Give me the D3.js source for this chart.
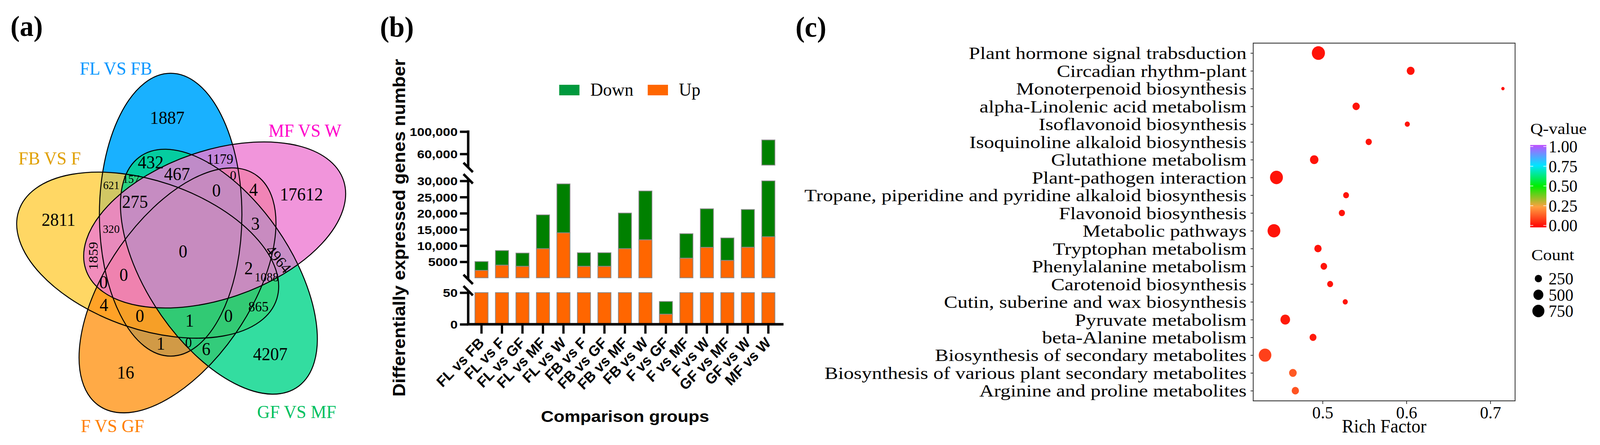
<!DOCTYPE html>
<html><head><meta charset="utf-8">
<script src="https://cdn.jsdelivr.net/npm/d3@7"></script>
<style>html,body{margin:0;padding:0;background:#fff;overflow:hidden}svg{display:block;width:100vw;height:100vh}</style>
</head><body>
<svg id="chart" viewBox="0 0 4266 1139" preserveAspectRatio="none"></svg>
<script>
// ================= DATA =================
// (a) Venn
const vennSets = ["FL VS FB", "MF VS W", "GF VS MF", "F VS GF", "FB VS F"];
const vennCounts = [1887, 17612, 4207, 16, 2811, 432, 467, 1179, 0, 157, 621, 275, 0, 4, 3, 320,
  1859, 0, 4964, 2, 1088, 0, 0, 4, 865, 0, 1, 0, 1, 0, 6];

// (b) stacked bars
const groups = ["FL vs FB","FL vs F","FL vs GF","FL vs MF","FL vs W","FB vs F","FB vs GF","FB vs MF",
  "FB vs W","F vs GF","F vs MF","F vs W","GF vs MF","GF vs W","MF vs W"];
const upCounts   = [2350, 3980, 3620, 9070, 13970, 3620, 3620, 9070, 11800, 16, 6130, 9470, 5440, 9510, 12750];
const downCounts = [2720, 4490, 4080, 10430, 15100, 4180, 4180, 10990, 15080, 20, 7550, 11910, 6930, 11640, 72250];
const seriesNames = ["Down", "Up"];
const yTicksTop = [60000, 100000];
const yTicksMid = [5000, 10000, 15000, 20000, 25000, 30000];
const yTicksBottom = [0, 50];

// (c) KEGG bubble
const pathways = ["Plant hormone signal trabsduction","Circadian rhythm-plant","Monoterpenoid biosynthesis",
  "alpha-Linolenic acid metabolism","Isoflavonoid biosynthesis","Isoquinoline alkaloid biosynthesis",
  "Glutathione metabolism","Plant-pathogen interaction","Tropane, piperidine and pyridine alkaloid biosynthesis",
  "Flavonoid biosynthesis","Metabolic pathways","Tryptophan metabolism","Phenylalanine metabolism",
  "Carotenoid biosynthesis","Cutin, suberine and wax biosynthesis","Pyruvate metabolism","beta-Alanine metabolism",
  "Biosynthesis of secondary metabolites","Biosynthesis of various plant secondary metabolites",
  "Arginine and proline metabolites"];
const richFactor = [0.495, 0.605, 0.715, 0.540, 0.601, 0.555, 0.490, 0.445, 0.528, 0.523, 0.442, 0.4945,
  0.5015, 0.509, 0.527, 0.4555, 0.4886, 0.4314, 0.4646, 0.4675];
const geneCount = [897, 303, 28, 255, 110, 178, 356, 866, 154, 174, 846, 255, 204, 163, 110, 466, 226, 825, 285, 255];
const qValue = [0.03, 0.03, 0.02, 0.03, 0.03, 0.03, 0.03, 0.03, 0.03, 0.03, 0.03, 0.03, 0.03, 0.03, 0.03,
  0.04, 0.04, 0.10, 0.14, 0.13];
const xTicksRich = [0.5, 0.6, 0.7];
const qLegendTicks = [0, 0.25, 0.5, 0.75, 1];
const countLegend = [250, 500, 750];

// ================= LAYOUT / STYLE =================
const svg = d3.select("#chart");
const SERIF = "'Liberation Serif','Times New Roman',serif";
const SANS = "'Liberation Sans',Arial,sans-serif";

// panel letters
[["(a)", 28, 92], ["(b)", 1013, 94], ["(c)", 2121, 94]].forEach(([t, x, y]) =>
  svg.append("text").attr("x", x).attr("y", y).attr("font-family", SERIF).attr("font-weight", "bold")
    .attr("font-size", 74).text(t));

// ---------- (a) Venn ----------
const venn = svg.append("g");
const vC = [495.6, 643.4], vR = 102.3, vA0 = -113.4, ellA = 190, ellB = 362;
const vennFill = ["#00A9FF", "#ED7AD2", "#00D488", "#FF9518", "#FFCD3D"];
const vennOpacity = [0.9, 0.8, 0.8, 0.8, 0.8];
const vennLabelColor = ["#0096FF", "#FF00CC", "#00C060", "#FF7F00", "#E0A000"];
const vennLabelPos = [[309, 191], [813, 350], [791, 1070], [300, 1106], [132.5, 421]];
const drawOrder = [0, 4, 3, 2, 1];
function ell(i) {
  const a = (vA0 + 72 * i) * Math.PI / 180;
  return {cx: vC[0] + vR * Math.cos(a), cy: vC[1] + vR * Math.sin(a), rot: 72 * i};
}
drawOrder.forEach(i => {
  const e = ell(i);
  venn.append("ellipse").attr("cx", e.cx).attr("cy", e.cy).attr("rx", ellA).attr("ry", ellB)
    .attr("transform", `rotate(${e.rot},${e.cx},${e.cy})`)
    .attr("fill", vennFill[i]).attr("fill-opacity", vennOpacity[i]).attr("stroke", "none");
});
drawOrder.forEach(i => {
  const e = ell(i);
  venn.append("ellipse").attr("cx", e.cx).attr("cy", e.cy).attr("rx", ellA).attr("ry", ellB)
    .attr("transform", `rotate(${e.rot},${e.cx},${e.cy})`)
    .attr("fill", "none").attr("stroke", "#000").attr("stroke-width", 2.6);
});
vennSets.forEach((s, i) => venn.append("text").attr("x", vennLabelPos[i][0]).attr("y", vennLabelPos[i][1])
  .attr("text-anchor", "middle").attr("font-family", SERIF).attr("font-size", 47)
  .attr("fill", vennLabelColor[i]).text(s));
// region label anchors: [x, y, fontSize, rotation]
const L = 46;
const regionPos = [[446,302,L,0],[803.6,497.5,L,0],[720.7,906.9,L,0],[334.8,953.8,L,0],[156,562.6,L,0],
  [401.8,415.2,L,0],[472,445.8,L,0],[586.7,407.6,36,0],[621.8,447.8,34,0],[349.5,457.3,30,0],[296.6,474.5,29,0],
  [360,516.6,L,0],[577,488,L,0],[676,486,L,0],[681,572.5,L,0],[296.6,585.7,30,0],[248.7,655,36,-90],
  [488,644,L,0],[743,662.7,40,50],[663,687,L,0],[711,709.7,32,0],[276,722.8,L,0],[330,704,L,0],
  [277,781,L,0],[689,784.8,36,0],[373,809,L,0],[505.7,820.5,L,0],[609,809,L,0],[428.6,879.8,L,0],
  [502.6,876.8,36,0],[549.7,893.7,L,0]];
vennCounts.forEach((c, i) => {
  const [x, y, fs, r] = regionPos[i];
  venn.append("text").attr("transform", `translate(${x},${y}) rotate(${r})`)
    .attr("text-anchor", "middle").attr("dominant-baseline", "central")
    .attr("font-family", SERIF).attr("font-size", fs).attr("fill", "#000").text(c);
});

// ---------- (b) stacked bars with broken axis ----------
const pb = svg.append("g");
const axX = 1248.3, axY = 830;
const xB = d3.scaleBand().domain(groups).range([1248, 2084.4]).paddingInner(0.36).paddingOuter(0.335);
const segs = [
  {s: d3.scaleLinear().domain([0, 50]).range([830, 749]), ticks: yTicksBottom, line: [744, 833]},
  {s: d3.scaleLinear().domain([50, 30000]).range([711.1, 463]), ticks: yTicksMid, line: [457.7, 715]},
  {s: d3.scaleLinear().domain([40000, 100000]).range([422.6, 336.8]), ticks: yTicksTop, line: [333.8, 428.5]}
];
const barColor = {Up: "#FF6600", Down: "#008000"};
const legendColor = {Up: "#FF6600", Down: "#00993D"};
groups.forEach((g, i) => {
  const layers = [{k: "Up", lo: 0, hi: upCounts[i]}, {k: "Down", lo: upCounts[i], hi: upCounts[i] + downCounts[i]}];
  segs.forEach(sg => {
    const [d0, d1] = sg.s.domain();
    layers.forEach(l => {
      const lo = Math.max(l.lo, d0), hi = Math.min(l.hi, d1);
      if (hi > lo) {
        pb.append("rect").attr("x", xB(g)).attr("width", xB.bandwidth())
          .attr("y", sg.s(hi)).attr("height", sg.s(lo) - sg.s(hi))
          .attr("fill", barColor[l.k]).attr("stroke", "#8a8a8a").attr("stroke-width", 2);
      }
    });
  });
});
const fmtB = v => v >= 10000 ? d3.format(",")(v) : String(v);
segs.forEach(sg => {
  const ga = pb.append("g").attr("transform", `translate(${axX},0)`)
    .call(d3.axisLeft(sg.s).tickValues(sg.ticks).tickSize(22).tickFormat(fmtB));
  ga.select(".domain").remove();
  ga.selectAll(".tick line").attr("stroke", "#000").attr("stroke-width", 6);
  ga.selectAll(".tick text").attr("x", 0).attr("dy", "0.36em").attr("fill", "#000")
    .attr("font-family", SANS).attr("font-weight", "bold").attr("font-size", 30)
    .attr("transform", "translate(-28,0) scale(1.18,1)");
  pb.append("line").attr("x1", axX).attr("x2", axX).attr("y1", sg.line[0]).attr("y2", sg.line[1])
    .attr("stroke", "#000").attr("stroke-width", 6.5);
});
// break marks
[428.5, 457.7, 715, 744].forEach(y =>
  pb.append("line").attr("x1", axX - 12.5).attr("y1", y - 12).attr("x2", axX + 12.5).attr("y2", y + 12)
    .attr("stroke", "#000").attr("stroke-width", 6.5));
// x axis
const gx = pb.append("g").attr("transform", `translate(0,${axY})`)
  .call(d3.axisBottom(xB).tickSize(24).tickSizeOuter(0));
gx.select(".domain").remove();
gx.selectAll(".tick line").attr("stroke", "#000").attr("stroke-width", 6);
gx.selectAll(".tick text").attr("x", 0).attr("y", 0).attr("dy", 0).attr("text-anchor", "end")
  .attr("transform", "translate(9,50) rotate(-45)").attr("fill", "#000")
  .attr("font-family", SANS).attr("font-weight", "bold").attr("font-size", 38);
pb.append("line").attr("x1", axX - 3).attr("x2", 2089).attr("y1", axY).attr("y2", axY)
  .attr("stroke", "#000").attr("stroke-width", 6.5);
// titles
pb.append("text").attr("transform", "translate(1080,583) rotate(-90)").attr("text-anchor", "middle")
  .attr("font-family", SANS).attr("font-weight", "bold").attr("font-size", 47).text("Differentially expressed genes number");
pb.append("text").attr("transform", "translate(1666.5,1080) scale(1.18,1)").attr("text-anchor", "middle")
  .attr("font-family", SANS).attr("font-weight", "bold").attr("font-size", 40).text("Comparison groups");
// legend
const legX = d3.scalePoint().domain(seriesNames).range([1491, 1727]);
seriesNames.forEach(s => {
  pb.append("rect").attr("x", legX(s)).attr("y", 217).attr("width", 54).attr("height", 27).attr("fill", legendColor[s]);
  pb.append("text").attr("x", legX(s) + 83).attr("y", 245).attr("font-family", SERIF).attr("font-size", 47).text(s);
});

// ---------- (c) bubble chart ----------
const pc = svg.append("g");
const box = {x0: 3341.4, x1: 4039.6, y0: 110.4, y1: 1026};
const xR = d3.scaleLinear().domain([0.4173, 0.7295]).range([box.x0, box.x1]);
const yP = d3.scalePoint().domain(pathways).range([135.8, 1000]);
const rS = d3.scaleRadial().domain([0, 900]).range([Math.sqrt(10), Math.sqrt(307)]);
const qColors = ["#FF0000", "#FFA040", "#00EE00", "#00E5FF", "#C050FF"];
const cS = d3.scaleLinear().domain(qLegendTicks).range(qColors);

pathways.forEach((p, i) => {
  pc.append("circle").attr("cx", xR(richFactor[i])).attr("cy", yP(p)).attr("r", rS(geneCount[i]))
    .attr("fill", cS(qValue[i]));
});
pc.append("rect").attr("x", box.x0).attr("y", box.y0).attr("width", box.x1 - box.x0).attr("height", box.y1 - box.y0)
  .attr("fill", "none").attr("stroke", "#333").attr("stroke-width", 2.2);
const gyc = pc.append("g").attr("transform", `translate(${box.x0},0)`).call(d3.axisLeft(yP).tickSize(7));
gyc.select(".domain").remove();
gyc.selectAll(".tick line").attr("stroke", "#333").attr("stroke-width", 2);
gyc.selectAll(".tick text").attr("x", 0).attr("dy", "0.34em").attr("fill", "#000")
  .attr("font-family", SERIF).attr("font-size", 44).attr("transform", "translate(-17.7,0) scale(1.23,1)");
const gxc = pc.append("g").attr("transform", `translate(0,${box.y1})`)
  .call(d3.axisBottom(xR).tickValues(xTicksRich).tickSize(8).tickFormat(d3.format(".1f")));
gxc.select(".domain").remove();
gxc.selectAll(".tick line").attr("stroke", "#333").attr("stroke-width", 2);
gxc.selectAll(".tick text").attr("y", 45).attr("dy", 0).attr("fill", "#000")
  .attr("font-family", SERIF).attr("font-size", 45);
pc.append("text").attr("x", (box.x0 + box.x1) / 2).attr("y", 1107).attr("text-anchor", "middle")
  .attr("font-family", SERIF).attr("font-size", 48).text("Rich Factor");

// colour legend
const qy = d3.scaleLinear().domain([0, 1]).range([577, 375]);
const grad = svg.append("defs").append("linearGradient").attr("id", "qgrad")
  .attr("x1", 0).attr("y1", 1).attr("x2", 0).attr("y2", 0);
qLegendTicks.forEach((t, i) => grad.append("stop").attr("offset", t).attr("stop-color", qColors[i]));
pc.append("text").attr("transform", "translate(4080,343) scale(1.17,1)").attr("font-family", SERIF)
  .attr("font-size", 40).text("Q-value");
pc.append("rect").attr("x", 4080).attr("y", qy(1) - 4).attr("width", 43).attr("height", qy(0) - qy(1) + 9)
  .attr("fill", "url(#qgrad)");
qLegendTicks.forEach(t => {
  pc.append("line").attr("x1", 4080).attr("x2", 4088).attr("y1", qy(t)).attr("y2", qy(t)).attr("stroke", "#fff").attr("stroke-width", 1.5);
  pc.append("line").attr("x1", 4115).attr("x2", 4123).attr("y1", qy(t)).attr("y2", qy(t)).attr("stroke", "#fff").attr("stroke-width", 1.5);
  pc.append("text").attr("x", 4129).attr("y", qy(t)).attr("dy", "0.35em").attr("font-family", SERIF)
    .attr("font-size", 44).text(d3.format(".2f")(t));
});
// size legend
pc.append("text").attr("transform", "translate(4083,666) scale(1.17,1)").attr("font-family", SERIF)
  .attr("font-size", 40).text("Count");
const cy = d3.scalePoint().domain(countLegend).range([713, 796]);
countLegend.forEach(c => {
  pc.append("circle").attr("cx", 4101.7).attr("cy", cy(c)).attr("r", rS(c)).attr("fill", "#000");
  pc.append("text").attr("x", 4129).attr("y", cy(c)).attr("dy", "0.35em").attr("font-family", SERIF)
    .attr("font-size", 44).text(c);
});
</script>
</body></html>
